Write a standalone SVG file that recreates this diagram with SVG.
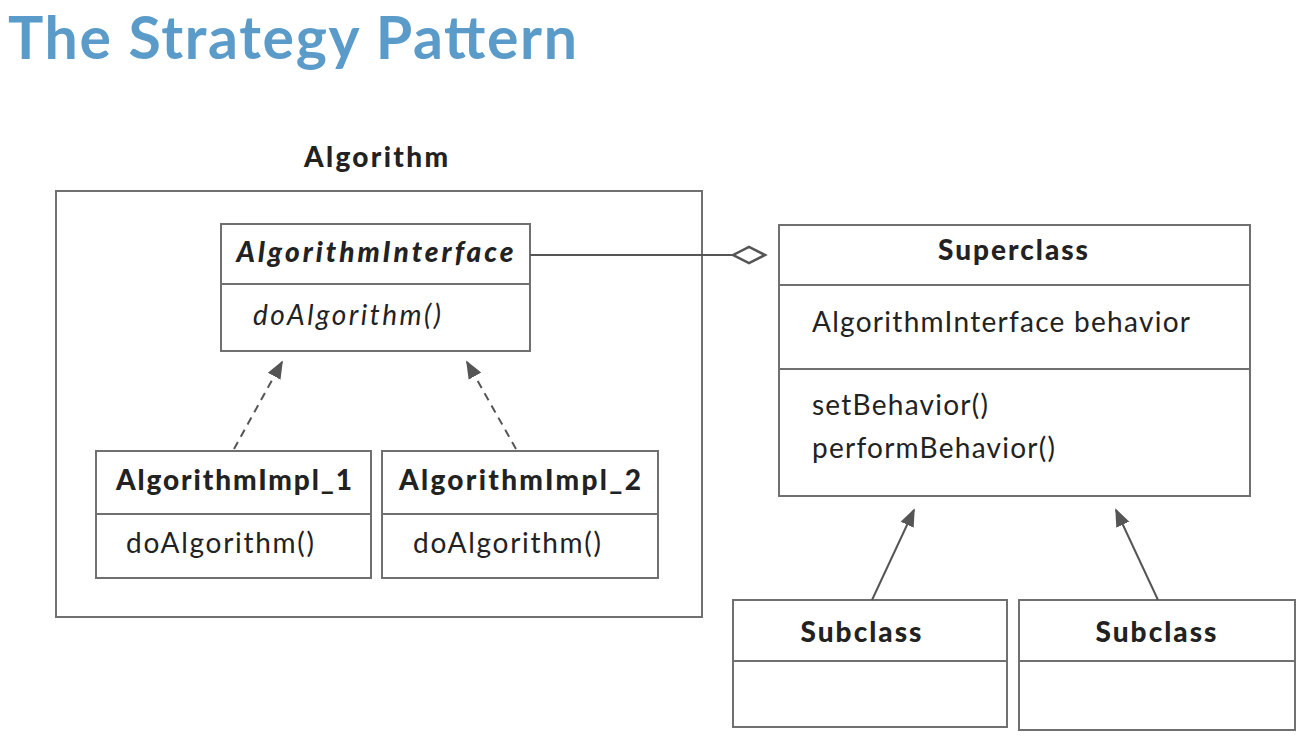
<svg xmlns="http://www.w3.org/2000/svg" width="1309" height="744" viewBox="0 0 1309 744">
<defs>
<style>
.box{fill:#fff;stroke:#707070;stroke-width:2}
.div{stroke:#707070;stroke-width:2}
.t{font-family:Lato,"Noto Sans",sans-serif;fill:#222;font-size:28px}
.b{font-weight:900}
.i{font-style:italic}
.c{text-anchor:middle}
.con{stroke:#555;stroke-width:2;fill:none}
</style>
<marker id="tri2" viewBox="0 0 10 10" refX="9" refY="5" markerWidth="18" markerHeight="18" markerUnits="userSpaceOnUse" orient="auto">
<path d="M0,1 L10,5 L0,9 Z" fill="#555"/>
</marker>
</defs>
<rect width="1309" height="744" fill="#fff"/>
<text x="8" y="59" font-family="Lato,'Noto Sans',sans-serif" font-weight="bold" font-size="59" fill="#5b9bc9" textLength="569" lengthAdjust="spacing">The Strategy Pattern</text>

<g id="algorithm">
<rect class="box" x="56" y="191" width="646" height="426"/>
<text class="t b c" x="376" y="167" textLength="144" lengthAdjust="spacing">Algorithm</text>
</g>

<g id="algorithmInterface">
<rect class="box" x="221" y="224" width="309" height="127"/>
<line class="div" x1="221" y1="284" x2="530" y2="284"/>
<text class="t b i c" x="375" y="262" textLength="277" lengthAdjust="spacing">AlgorithmInterface</text>
<text class="t i" x="253" y="325" textLength="188" lengthAdjust="spacing">doAlgorithm()</text>
</g>

<g id="impl1">
<rect class="box" x="96" y="451" width="275" height="127"/>
<line class="div" x1="96" y1="514" x2="371" y2="514"/>
<text class="t b c" x="234" y="490" textLength="236" lengthAdjust="spacing">AlgorithmImpl_1</text>
<text class="t" x="126" y="553" textLength="188" lengthAdjust="spacing">doAlgorithm()</text>
</g>

<g id="impl2">
<rect class="box" x="382" y="451" width="276" height="127"/>
<line class="div" x1="382" y1="514" x2="658" y2="514"/>
<text class="t b c" x="520" y="490" textLength="242" lengthAdjust="spacing">AlgorithmImpl_2</text>
<text class="t" x="413" y="553" textLength="188" lengthAdjust="spacing">doAlgorithm()</text>
</g>

<g id="superclass">
<rect class="box" x="779" y="225" width="471" height="271"/>
<line class="div" x1="779" y1="285" x2="1250" y2="285"/>
<line class="div" x1="779" y1="369" x2="1250" y2="369"/>
<text class="t b c" x="1013" y="260" textLength="150" lengthAdjust="spacing">Superclass</text>
<text class="t" x="812" y="332" textLength="378" lengthAdjust="spacing">AlgorithmInterface behavior</text>
<text class="t" x="812" y="415" textLength="176" lengthAdjust="spacing">setBehavior()</text>
<text class="t" x="812" y="458" textLength="243" lengthAdjust="spacing">performBehavior()</text>
</g>

<g id="subclass1">
<rect class="box" x="733" y="600" width="274" height="127"/>
<line class="div" x1="733" y1="661" x2="1007" y2="661"/>
<text class="t b c" x="861" y="642" textLength="121" lengthAdjust="spacing">Subclass</text>
</g>

<g id="subclass2">
<rect class="box" x="1019" y="600" width="276" height="130"/>
<line class="div" x1="1019" y1="661" x2="1295" y2="661"/>
<text class="t b c" x="1156" y="642" textLength="121" lengthAdjust="spacing">Subclass</text>
</g>

<g id="connectors">
<line class="con" x1="530" y1="255" x2="733" y2="255"/>
<path d="M733,255 L749,247 L765,255 L749,263 Z" fill="#fff" stroke="#555" stroke-width="2.5"/>
<line class="con" x1="234" y1="449" x2="282" y2="362" stroke-dasharray="8,6" marker-end="url(#tri2)"/>
<line class="con" x1="516" y1="449" x2="467" y2="362" stroke-dasharray="8,6" marker-end="url(#tri2)"/>
<line class="con" x1="872" y1="600" x2="914" y2="510" marker-end="url(#tri2)"/>
<line class="con" x1="1158" y1="600" x2="1116" y2="510" marker-end="url(#tri2)"/>
</g>
</svg>
